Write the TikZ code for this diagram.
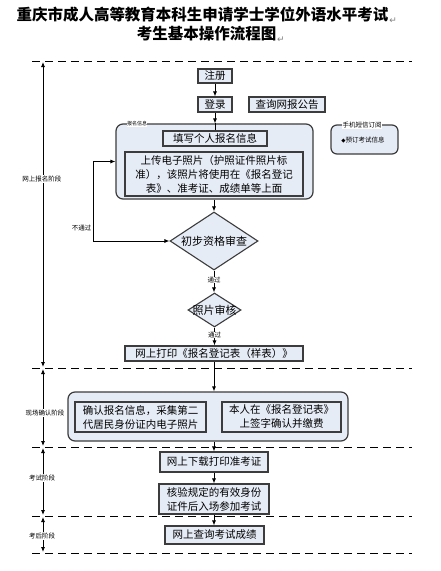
\documentclass[tikz,border=0pt]{standalone}
\usepackage{fontspec}
\newfontfamily\cjk{Noto Sans CJK SC}
\newfontfamily\djv{DejaVu Sans}
\usetikzlibrary{shapes.geometric,arrows.meta,calc}
\definecolor{boxc}{HTML}{E6ECF6}
\definecolor{bordc}{HTML}{3C3C3C}
\definecolor{pilc}{HTML}{808080}
\begin{document}
\begin{tikzpicture}[x=1pt,y=-1pt,
 box/.style={draw=bordc,fill=boxc,line width=1.1pt,inner sep=0pt,align=center,font=\cjk\fontsize{10.5}{14}\selectfont},
 grp/.style={draw=bordc,fill=boxc,line width=1.2pt,rounded corners=7pt,inner sep=0pt},
 dia/.style={diamond,draw=bordc,fill=boxc,line width=1.1pt,inner sep=0pt,font=\cjk\fontsize{11}{13}\selectfont},
 arr/.style={-{Latex[length=5pt,width=4pt]},line width=0.8pt},
 phase/.style={{Latex[length=5pt,width=4pt]}-{Latex[length=5pt,width=4pt]},line width=0.8pt,shorten <=1pt,shorten >=1pt},
 sep/.style={dash pattern=on 8pt off 5pt,line width=1pt},
 tiny/.style={font=\cjk\fontsize{6.5}{7}\selectfont,fill=white,inner sep=0.5pt},
 plain/.style={font=\cjk\fontsize{6.5}{7}\selectfont,inner sep=0.5pt},
 ttl/.style={font=\cjk\bfseries\fontsize{15.5}{18}\selectfont,inner sep=0pt},
 pil/.style={font=\djv\fontsize{9}{10}\selectfont,text=pilc,inner sep=0pt,anchor=south west},
]
\useasboundingbox[fill=white] (0,0) rectangle (440,571);

% title
\node[ttl] (t1) at (202.5,15) {重庆市成人高等教育本科生申请学士学位外语水平考试};
\node[pil] (p1) at ([xshift=0.5pt,yshift=-1pt]t1.south east) {↵};
\node[ttl] (t2) at (206.5,34) {考生基本操作流程图};
\node[pil] (p2) at ([xshift=0.5pt,yshift=-1pt]t2.south east) {↵};

% phase separators
\foreach \i/\y in {0/61,1/368,2/447,3/516,4/553}{
  \coordinate (s\i) at (32,\y);
  \coordinate (e\i) at (412,\y);
  \coordinate (v\i) at (43,\y);
}
\foreach \i in {0,...,4}{ \draw[sep] (s\i) -- (e\i); }
\draw[phase] (v0) -- (v1);
\draw[phase] (v1) -- (v2);
\draw[phase] (v2) -- (v3);
\draw[phase] (v3) -- (v4);
\node[tiny] (ph1) at (42,179) {网上报名阶段};
\node[tiny] (ph2) at (45,413) {现场确认阶段};
\node[tiny] (ph3) at (42,478) {考试阶段};
\node[tiny] (ph4) at (42,536) {考后阶段};

% online registration
\node[box,minimum width=34,minimum height=14] (reg) at (215,76) {注册};
\node[box,minimum width=34,minimum height=15] (login) at (215,104.5) {登录};
\node[box,minimum width=76,minimum height=15] (notice) at (287,104.5) {查询网报公告};

\node[grp,minimum width=197,minimum height=75] (g1) at (214.5,161.5) {};
\node[font=\cjk\fontsize{5}{6}\selectfont,fill=white,inner sep=0.3pt] (g1l) at (137,124) {报名信息};
\node[box,minimum width=104,minimum height=15] (fill) at (215,138.5) {填写个人报名信息};
\node[box,minimum width=178,minimum height=44] (upload) at (214,174) {上传电子照片（护照证件照片标\\准），该照片将使用在《报名登记\\表》、准考证、成绩单等上面};

\node[grp,rounded corners=6pt,minimum width=67,minimum height=29] (phone) at (364.5,139.5) {};
\node[tiny] (phonel) at (362,125) {手机短信订阅};
\node[plain] (phonei) at (363,140) {{\djv\fontsize{5.5}{6}\selectfont ◆}预订考试信息};

\node[dia,minimum width=88,minimum height=58] (d1) at (214,241) {\makebox[0pt]{初步资格审查}};
\node[dia,minimum width=53,minimum height=34] (d2) at (214.5,310) {\makebox[0pt]{照片审核}};
\node[box,minimum width=178,minimum height=15] (print) at (214,353.5) {网上打印《报名登记表（样表）》};

\draw[arr] (reg) -- (login);
\draw[arr] (login) -- (g1.north -| login);
\draw[line width=0.8pt] (g1.north -| login) -- (fill.north -| login);
\draw[arr] (g1.south -| d1) -- (d1.north);
\coordinate (lp) at (93,200);
\draw[{Latex[length=5pt,width=4pt]}-{Latex[length=5pt,width=4pt]},line width=0.8pt]
  (g1.west) -- (g1.west -| lp) -- (d1.west -| lp) -- (d1.west);
\node[plain,anchor=east] (fail) at (92,228) {不通过};
\draw[arr] (d1.south) -- (d2.north -| d1.south);
\node[tiny] (ok1) at (214,280) {通过};
\draw[arr] (d2.south) -- (print.north -| d2.south);
\node[tiny] (ok2) at (214.5,335) {通过};

% on-site confirmation
\node[grp,minimum width=280,minimum height=49] (g2) at (208,416.5) {};
\node[box,minimum width=131,minimum height=30] (c1) at (140.5,417) {确认报名信息，采集第二\\代居民身份证内电子照片};
\node[box,minimum width=119,minimum height=30] (c2) at (281.5,417) {本人在《报名登记表》\\上签字确认并缴费};
\draw[arr] (print.south) -- (print.south |- g2.north);

% exam
\node[box,minimum width=108,minimum height=20] (dl) at (214,462) {网上下载打印准考证};
\node[box,minimum width=110,minimum height=30] (ver) at (214,499) {核验规定的有效身份\\证件后入场参加考试};
\node[box,minimum width=99,minimum height=18] (res) at (214.5,535) {网上查询考试成绩};
\draw[arr] (dl.north |- g2.south) -- (dl.north);
\draw[arr] (dl) -- (ver);
\draw[arr] (ver.south) -- (res.north -| ver.south);
\end{tikzpicture}
\end{document}
